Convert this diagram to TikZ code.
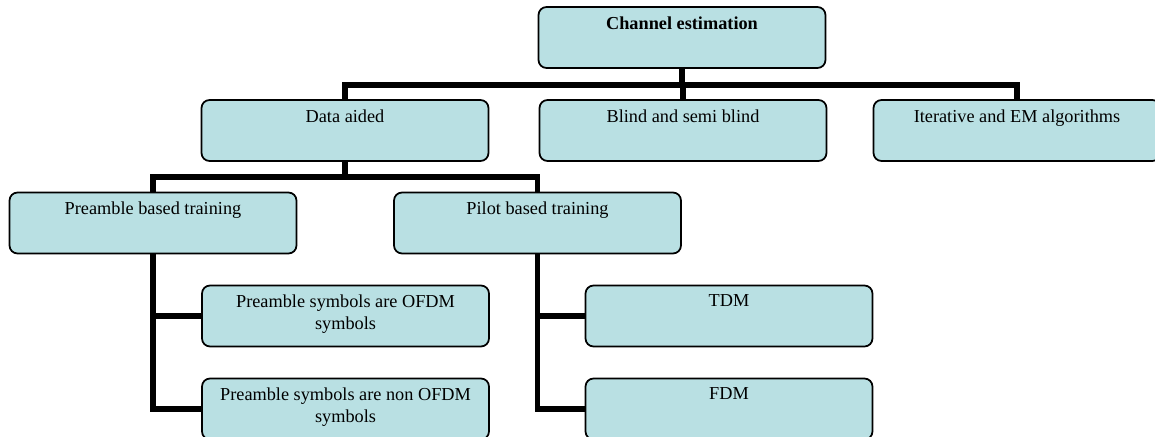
\documentclass[tikz,border=0pt]{standalone}
\usepackage{fontspec}
\setmainfont{Liberation Serif}
\usepackage{tikz}
\usetikzlibrary{positioning, calc}
\definecolor{boxfill}{RGB}{185,224,227}
\tikzset{box/.style = {draw, fill=boxfill, rounded corners=0.16cm, line width=1pt,
                       minimum width=5.74cm, minimum height=1.22cm, inner sep=0pt},
         lbl/.style = {inner sep=0pt, align=center, anchor=north, yshift=-0.2cm,
                       font=\fontsize{10.4}{12.6}\selectfont},
         link/.style = {line width=2.9pt}}

\begin{document}
\begin{tikzpicture}[x=0.02cm, y=0.02cm, label distance=0pt]
            \useasboundingbox (0,0) rectangle (1155,-436);
            \node[box, label={[lbl]north:\textbf{Channel estimation}}] (CE) at (682,-37.5) {};
            \node[box, label={[lbl]north:Data aided}] (DA) at (345,-130.5) {};
            \node[box, label={[lbl]north:Blind and semi blind}] (BS) at (683,-130.5) {};
            \node[box, label={[lbl]north:Iterative and EM algorithms}] (IE) at (1017,-130.5) {};
            \node[box, label={[lbl]north:Preamble based training}] (PR) at (153,-223) {};
            \node[box, label={[lbl]north:Pilot based training}] (PI) at (537.5,-223) {};
            \node[box, label={[lbl]north:{Preamble symbols are OFDM\\symbols}}] (PO) at (345.5,-316) {};
            \node[box, label={[lbl]north:{Preamble symbols are non OFDM\\symbols}}] (PN) at (345.5,-409) {};
            \node[box, label={[lbl]north:TDM}] (TD) at (729,-316) {};
            \node[box, label={[lbl]north:FDM}] (FD) at (729,-409) {};
            \coordinate (B1) at (682,-85);
            \coordinate (B2) at (345,-177);
            \draw[link] (CE.south) -- (B1);
            \draw[link] (DA.north) |- (B1) -| (IE.north);
            \draw[link] (BS.north) -- (BS.north |- B1);
            \draw[link] (DA.south) -- (B2);
            \draw[link] (PR.north) |- (B2) -| (PI.north);
            \draw[link] (PR.south) |- (PN.west);
            \draw[link] (PR.south |- PO.west) -- (PO.west);
            \draw[link] (PI.south) |- (FD.west);
            \draw[link] (PI.south |- TD.west) -- (TD.west);
        \end{tikzpicture}
\end{document}
